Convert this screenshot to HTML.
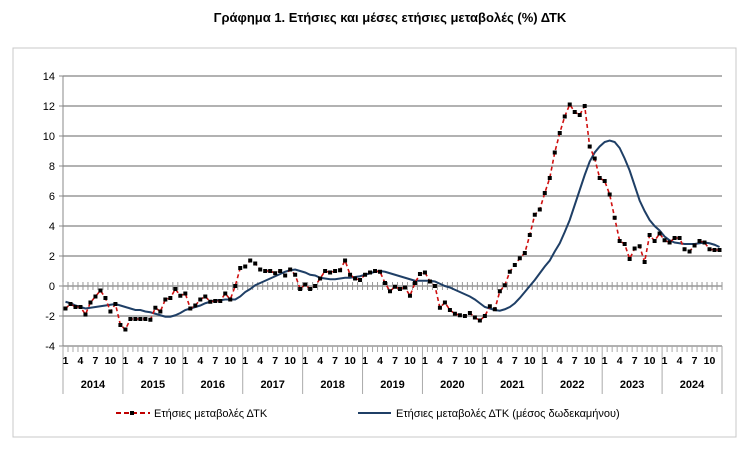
<!DOCTYPE html>
<html><head><meta charset="utf-8"><style>
body{margin:0;background:#fff;width:746px;height:447px;overflow:hidden;font-family:"Liberation Sans",sans-serif}
svg text{font-family:"Liberation Sans",sans-serif}
</style></head><body>
<svg id="c" width="746" height="447" xmlns="http://www.w3.org/2000/svg">
<text x="390" y="22" text-anchor="middle" font-size="13" font-weight="bold">Γράφημα 1. Ετήσιες και μέσες ετήσιες μεταβολές (%) ΔΤΚ</text>
<rect x="13" y="48" width="723" height="389" fill="none" stroke="#c8c8c8"/>
<g id="g"></g>
<g>
<line x1="116" y1="413" x2="150" y2="413" stroke="#c00000" stroke-width="2" stroke-dasharray="5,3"/>
<rect x="130" y="411" width="4" height="4" fill="#000"/>
<text x="154" y="417" font-size="11">Ετήσιες μεταβολές ΔΤΚ</text>
<line x1="358" y1="413" x2="391" y2="413" stroke="#1f3f66" stroke-width="2"/>
<text x="396" y="417" font-size="11">Ετήσιες μεταβολές ΔΤΚ (μέσος δωδεκαμήνου)</text>
</g>
</svg>
<script>
const years=[2014,2015,2016,2017,2018,2019,2020,2021,2022,2023,2024];
const yTicks=[14,12,10,8,6,4,2,0,-2,-4];
const monthLabels=[1,4,7,10];
const annual=[
-1.5,-1.2,-1.4,-1.4,-1.9,-1.1,-0.7,-0.3,-0.8,-1.7,-1.2,-2.6,
-2.9,-2.2,-2.2,-2.2,-2.2,-2.25,-1.45,-1.7,-0.9,-0.8,-0.2,-0.65,
-0.5,-1.5,-1.3,-0.9,-0.7,-1.05,-1.0,-1.0,-0.5,-0.9,0,1.2,
1.3,1.7,1.5,1.1,1.0,1.0,0.85,1.0,0.7,1.1,0.75,-0.2,
0.1,-0.2,0,0.5,1.0,0.9,1.0,1.05,1.7,0.75,0.5,0.4,
0.75,0.9,1.0,0.95,0.2,-0.35,-0.05,-0.2,-0.1,-0.65,0.2,0.8,
0.9,0.3,0,-1.45,-1.1,-1.6,-1.85,-1.95,-2.0,-1.8,-2.1,-2.3,
-2.0,-1.35,-1.55,-0.35,0.05,0.95,1.4,1.85,2.2,3.4,4.75,5.1,
6.2,7.2,8.9,10.2,11.3,12.1,11.6,11.4,12.0,9.3,8.5,7.2,
7.0,6.1,4.55,3.0,2.8,1.8,2.5,2.65,1.6,3.4,3.0,3.5,
3.05,2.9,3.2,3.2,2.45,2.3,2.7,3.0,2.9,2.45,2.4,2.4];
const average=[
-1.05,-1.15,-1.3,-1.4,-1.5,-1.45,-1.4,-1.35,-1.3,-1.25,-1.2,-1.3,
-1.4,-1.5,-1.6,-1.6,-1.7,-1.75,-1.85,-1.95,-2.05,-2.05,-1.95,-1.8,
-1.6,-1.5,-1.4,-1.3,-1.15,-1.05,-0.95,-0.95,-0.9,-0.9,-0.9,-0.7,
-0.4,-0.2,0.05,0.2,0.35,0.5,0.65,0.8,0.95,1.05,1.1,1.0,
0.9,0.75,0.7,0.55,0.5,0.45,0.45,0.5,0.55,0.55,0.6,0.65,
0.75,0.85,0.95,1.0,0.95,0.85,0.75,0.65,0.55,0.45,0.35,0.35,
0.35,0.35,0.3,0.15,0.0,-0.1,-0.25,-0.4,-0.55,-0.7,-0.9,-1.15,
-1.4,-1.5,-1.6,-1.65,-1.55,-1.4,-1.15,-0.8,-0.4,0,0.4,0.85,
1.3,1.7,2.3,2.85,3.6,4.4,5.4,6.4,7.4,8.3,8.9,9.3,
9.6,9.7,9.6,9.2,8.5,7.7,6.7,5.7,5.0,4.4,4.0,3.7,
3.3,3.05,2.9,2.85,2.8,2.8,2.8,2.85,2.9,2.85,2.75,2.6];
const NS="http://www.w3.org/2000/svg";
const g=document.getElementById('g');
const X0=63,X1=722,Y0=346,Y1=76,VMIN=-4,VMAX=14;
const n=years.length*12;
const step=(X1-X0)/n;
const xc=i=>X0+step*(i+0.5);
const y=v=>Y0+(v-VMIN)*(Y1-Y0)/(VMAX-VMIN);
function mk(t,a,name){const e=document.createElementNS(NS,t);for(const k in a)e.setAttribute(k,a[k]);


g.appendChild(e);return e;}
yTicks.forEach(v=>{
  mk('line',{x1:X0,x2:X1,y1:y(v),y2:y(v),stroke:'#999','stroke-width':1.5},'gridline-'+v);
  mk('line',{x1:X0-4,x2:X0,y1:y(v),y2:y(v),stroke:'#888'},'y-tick-'+v);
  const t=mk('text',{x:X0-8,y:y(v)+4,'text-anchor':'end','font-size':11},'y-tick-label-'+v);t.textContent=v;
});
mk('line',{x1:X0,x2:X0,y1:Y1,y2:Y0,stroke:'#888'},'y-axis');
for(let i=0;i<=n;i++){
  const x=X0+step*i;
  mk('line',{x1:x,x2:x,y1:y(0)-4,y2:y(0)+4,stroke:'#999'},'zero-tick');
  mk('line',{x1:x,x2:x,y1:Y0,y2:Y0+(i%12==0?48:6),stroke:'#aaa'},'x-tick');
}
years.forEach((yr,k)=>{
  monthLabels.forEach(m=>{const t=mk('text',{x:xc(k*12+m-1),y:364,'text-anchor':'middle','font-size':10.5,'font-weight':'bold'},'month-label');t.textContent=m;});
  const t=mk('text',{x:X0+step*(k*12+6),y:388,'text-anchor':'middle','font-size':11,'font-weight':'bold'},'year-label-'+yr);t.textContent=yr;
});
mk('polyline',{points:average.map((v,i)=>xc(i)+','+y(v)).join(' '),fill:'none',stroke:'#1f3f66','stroke-width':2},'series-average');
mk('polyline',{points:annual.map((v,i)=>xc(i)+','+y(v)).join(' '),fill:'none',stroke:'#d01010','stroke-width':1.6,'stroke-dasharray':'4,3'},'series-annual');
annual.forEach((v,i)=>mk('rect',{x:xc(i)-2,y:y(v)-2,width:4,height:4,fill:'#000'},'point-annual'));
</script>
</body></html>
